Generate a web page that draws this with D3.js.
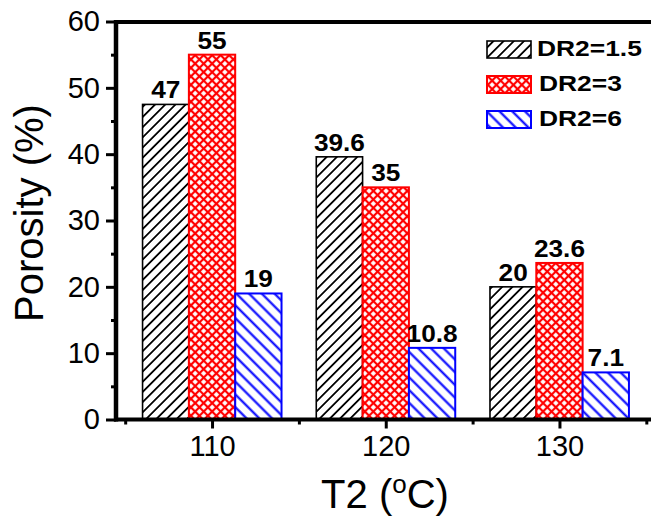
<!DOCTYPE html>
<html>
<head>
    <title>Porosity vs T2</title>
    <script src="https://cdn.jsdelivr.net/npm/d3@7"></script>
    <style>
        body { margin: 0; background: #fff; }
        text { font-family: Arial, "Liberation Sans", sans-serif; }
    </style>
</head>
<body>
    <svg id="chart" width="651" height="518"></svg>

    <script>
        // data
        var categories = [110, 120, 130];
        var seriesNames = ["DR2=1.5", "DR2=3", "DR2=6"];
        var dr15 = [47.5, 39.6, 20];
        var dr3 = [55, 35, 23.6];
        var dr6 = [19, 10.8, 7.1];
        var labels15 = ["47", "39.6", "20"];
        var labels3 = ["55", "35", "23.6"];
        var labels6 = ["19", "10.8", "7.1"];
        var yTicks = [0, 10, 20, 30, 40, 50, 60];
        var yMinor = [5, 15, 25, 35, 45, 55];
        var xMinor = [105, 115, 125, 135];

        var series = [
            {name: seriesNames[0], values: dr15, labels: labels15, color: "#000", pat: "hatchBlack", sw: 1.6},
            {name: seriesNames[1], values: dr3, labels: labels3, color: "#ff0000", pat: "crossRed", sw: 2},
            {name: seriesNames[2], values: dr6, labels: labels6, color: "#0000ff", pat: "hatchBlue", sw: 2}
        ];

        var svg = d3.select("#chart");

        var x = d3.scaleLinear().domain([104.5, 135.5]).range([116.5, 655]);
        var y = d3.scaleLinear().domain([0, 60]).range([419.5, 21.5]);
        var groupW = 8, barW = groupW / 3;

        // patterns
        var defs = svg.append("defs");
        function hatch(id, size, angle, color, w, cross) {
            var p = defs.append("pattern")
                .attr("id", id)
                .attr("patternUnits", "userSpaceOnUse")
                .attr("width", size).attr("height", size)
                .attr("patternTransform", "rotate(" + angle + ")");
            p.append("rect").attr("width", size).attr("height", size).attr("fill", "#fff");
            p.append("line").attr("x1", size / 2).attr("x2", size / 2).attr("y1", 0).attr("y2", size)
                .attr("stroke", color).attr("stroke-width", w);
            if (cross) {
                p.append("line").attr("y1", size / 2).attr("y2", size / 2).attr("x1", 0).attr("x2", size)
                    .attr("stroke", color).attr("stroke-width", w);
            }
        }
        hatch("hatchBlack", 7.2, 45, "#000", 1.8, false);
        hatch("crossRed", 6, 45, "#ff0000", 2.2, true);
        hatch("hatchBlue", 9, -45, "#0000ff", 2.1, false);

        // bars
        series.forEach(function(s, i) {
            var g = svg.append("g");
            g.selectAll("rect")
                .data(s.values)
                .enter().append("rect")
                .attr("x", function(d, j) { return x(categories[j] - groupW / 2 + i * barW); })
                .attr("width", function(d, j) {
                    return x(categories[j] - groupW / 2 + (i + 1) * barW) - x(categories[j] - groupW / 2 + i * barW);
                })
                .attr("y", function(d) { return y(d); })
                .attr("height", function(d) { return y(0) - y(d); })
                .attr("fill", "url(#" + s.pat + ")")
                .attr("stroke", s.color)
                .attr("stroke-width", s.sw);

            g.selectAll("text")
                .data(s.values)
                .enter().append("text")
                .attr("transform", function(d, j) {
                    var cx = x(categories[j] - groupW / 2 + (i + 0.5) * barW);
                    return "translate(" + cx + "," + (y(d) - 6) + ") scale(1.14,1)";
                })
                .attr("text-anchor", "middle")
                .style("font-size", "23px")
                .style("font-weight", "bold")
                .text(function(d, j) { return s.labels[j]; });
        });

        // axes
        var yAxis = svg.append("g")
            .attr("transform", "translate(116,0)")
            .call(d3.axisLeft(y).tickValues(yTicks).tickSize(10).tickPadding(6));
        var yAxisMinor = svg.append("g")
            .attr("transform", "translate(116,0)")
            .call(d3.axisLeft(y).tickValues(yMinor).tickSize(5).tickFormat(""));
        var xAxis = svg.append("g")
            .attr("transform", "translate(0,419.5)")
            .call(d3.axisBottom(x).tickValues(categories).tickSize(9).tickPadding(7));
        var xAxisMinor = svg.append("g")
            .attr("transform", "translate(0,419.5)")
            .call(d3.axisBottom(x).tickValues(xMinor).tickSize(5).tickFormat(""));

        [yAxis, yAxisMinor, xAxis, xAxisMinor].forEach(function(a) {
            a.select(".domain").remove();
            a.selectAll(".tick line").attr("stroke", "#000").attr("stroke-width", 3);
            a.selectAll(".tick text")
                .attr("fill", "#000")
                .style("font-size", "29px")
                .style("font-family", "Arial, 'Liberation Sans', sans-serif");
        });

        // frame lines
        svg.append("line").attr("x1", 114).attr("x2", 651).attr("y1", y(0)).attr("y2", y(0))
            .attr("stroke", "#000").attr("stroke-width", 4);
        svg.append("line").attr("x1", 114).attr("x2", 651).attr("y1", 22).attr("y2", 22)
            .attr("stroke", "#000").attr("stroke-width", 4);
        svg.append("line").attr("x1", 116).attr("x2", 116).attr("y1", 20).attr("y2", 421.5)
            .attr("stroke", "#000").attr("stroke-width", 4.5);

        // axis titles
        svg.append("text")
            .attr("transform", "translate(43,213) rotate(-90)")
            .attr("text-anchor", "middle")
            .style("font-size", "40px")
            .text("Porosity (%)");

        var xt = svg.append("text")
            .attr("x", 385)
            .attr("y", 508)
            .attr("text-anchor", "middle")
            .style("font-size", "40px");
        xt.append("tspan").text("T2 (");
        xt.append("tspan").attr("dy", -15).style("font-size", "26px").text("o");
        xt.append("tspan").attr("dy", 15).text("C)");

        // legend
        var legend = svg.append("g");
        series.forEach(function(s, i) {
            var ly = 41 + i * 35;
            legend.append("rect")
                .attr("x", 487).attr("y", ly)
                .attr("width", 44).attr("height", 17)
                .attr("fill", "url(#" + s.pat + ")")
                .attr("stroke", s.color)
                .attr("stroke-width", s.sw);
            legend.append("text")
                .attr("transform", "translate(" + (i == 0 ? 537 : 539) + "," + (ly + 14.5) + ") scale(1.2,1)")
                .style("font-size", "22px")
                .style("font-weight", "bold")
                .text(s.name);
        });
    </script>
</body>
</html>
